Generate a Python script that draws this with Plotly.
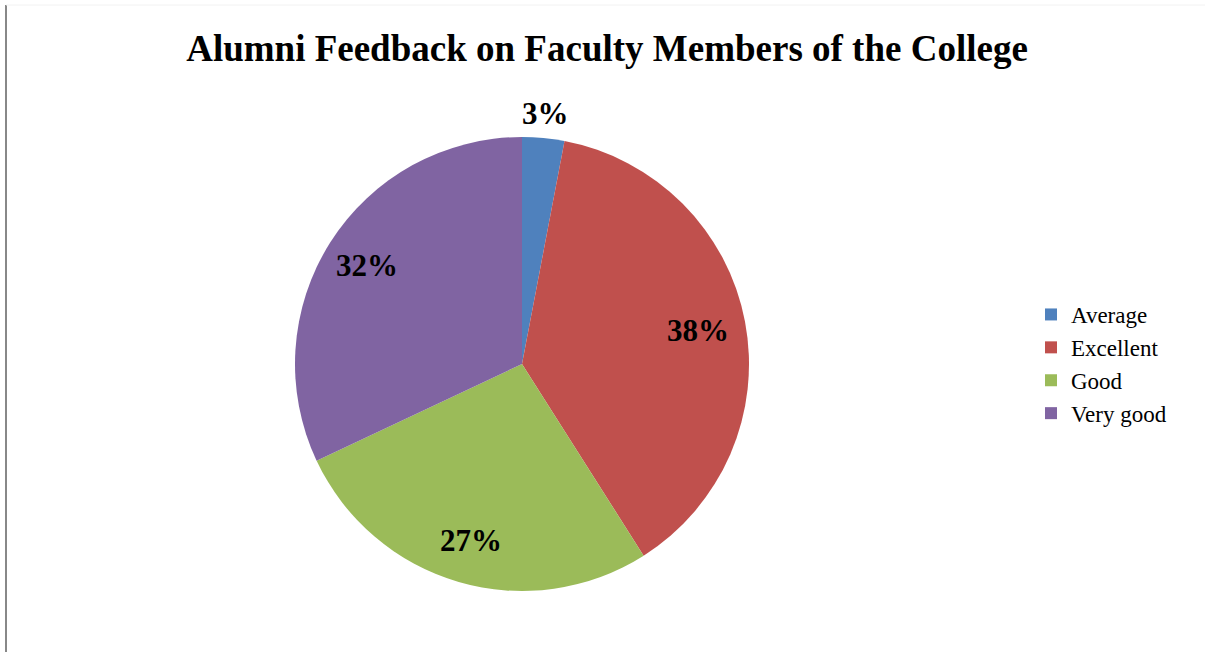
import math
import plotly.graph_objects as go

labels = ["Average", "Excellent", "Good", "Very good"]
values = [3, 38, 27, 32]
colors = ["#4F81BD", "#C0504D", "#9BBB59", "#8064A2"]
label_radius = [1.11, 0.79, 0.81, 0.81]  # fraction of pie radius where each % label sits

W, H = 1205, 652
cx, cy, r = 522, 364, 227

fig = go.Figure(go.Pie(
    labels=labels,
    values=values,
    sort=False,
    direction="clockwise",
    rotation=0,
    marker=dict(colors=colors, line=dict(width=0)),
    textinfo="none",
    domain=dict(x=[(cx - r) / W, (cx + r) / W], y=[(H - cy - r) / H, (H - cy + r) / H]),
    hoverinfo="label+percent",
))

# percentage labels placed along each slice's mid-angle (computed from the data)
total = sum(values)
annotations = []
cum = 0
for v, f in zip(values, label_radius):
    mid = (cum + v / 2) / total * 2 * math.pi
    cum += v
    px = cx + f * r * math.sin(mid)
    py = cy - f * r * math.cos(mid)
    annotations.append(dict(
        text=f"{round(v / total * 100)}%",
        x=px / W, y=1 - py / H, xref="paper", yref="paper",
        xanchor="center", yanchor="middle", showarrow=False,
        font=dict(family="Liberation Serif", size=31, color="black", weight="bold"),
    ))

fig.update_layout(
    width=W, height=H,
    margin=dict(l=0, r=0, t=0, b=0),
    paper_bgcolor="white",
    title=dict(
        text="Alumni Feedback on Faculty Members of the College",
        x=607 / W, xanchor="center", y=1 - 48 / H, yanchor="middle",
        font=dict(family="Liberation Serif", size=37, color="black", weight="bold"),
    ),
    legend=dict(
        x=1031 / W, xanchor="left", y=1 - 364 / H, yanchor="middle",
        font=dict(family="Liberation Serif", size=23, color="black"),
    ),
    annotations=annotations,
    shapes=[
        dict(type="line", xref="paper", yref="paper", x0=6 / W, x1=6 / W, y0=0, y1=1 - 5 / H,
             line=dict(color="#888888", width=2)),
        dict(type="line", xref="paper", yref="paper", x0=6 / W, x1=1, y0=1 - 5 / H, y1=1 - 5 / H,
             line=dict(color="#F2F2F2", width=1)),
    ],
)

fig.write_html("out.html", config={"displayModeBar": False},
               post_script="document.body.style.margin='0';")
